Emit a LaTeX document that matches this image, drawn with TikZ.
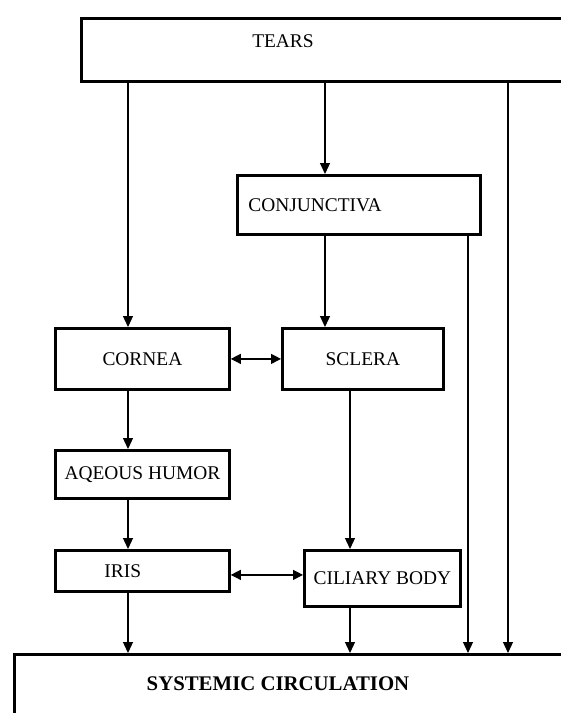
\documentclass[tikz,border=0pt]{standalone}
\usepackage{fontspec}
\setmainfont{Liberation Serif}
\usetikzlibrary{arrows.meta,positioning,calc}

\begin{document}
\begin{tikzpicture}[x=0.5pt,y=-0.5pt,
  box/.style={draw,line width=1.4pt,inner sep=0pt,anchor=north west,font=\fontsize{9.7}{11.6}\selectfont},
  lbl/.style={inner sep=0pt,font=\fontsize{9.7}{11.6}\selectfont},
  flow/.style={line width=0.6pt,-{Triangle[length=5.5pt,width=5pt]}},
  both/.style={line width=0.6pt,{Triangle[length=5pt,width=5pt]}-{Triangle[length=5pt,width=5pt]}}]
  \useasboundingbox (0,0) rectangle (561,713);
  \clip (0,0) rectangle (561,713);
  % Columns of the connectors
  \coordinate (colA) at (128,0);
  \coordinate (colB) at (325,0);
  \coordinate (colC) at (350,0);
  \coordinate (colD) at (468,0);
  \coordinate (colE) at (508,0);
  % Boxes
  \node[box,minimum width=280pt,minimum height=31.5pt] (tears) at (80,17) {};
  \node[lbl] (tearslbl) at (283,41) {TEARS};
  \node[box,minimum height=29.5pt,text width=110.5pt,inner xsep=5.5pt,align=left] (conj) at (236,174) {CONJUNCTIVA};
  \node[box,minimum width=87pt,minimum height=30.5pt] (cornea) at (54,327) {CORNEA};
  \node[box,minimum width=80.5pt,minimum height=30.5pt] (sclera) at (281,327) {SCLERA};
  \node[box,minimum width=87pt,minimum height=24pt] (aqueous) at (54,449) {AQEOUS HUMOR};
  \node[box,minimum height=20.5pt,text width=38pt,inner xsep=24.5pt,align=left] (iris) at (54,549) {IRIS};
  \node[box,minimum width=78pt,minimum height=28pt] (ciliary) at (303,549) {CILIARY BODY};
  \node[box,minimum width=300pt,minimum height=50pt] (sys) at (13,653) {};
  \node[lbl,font=\fontsize{10.4}{12}\selectfont\bfseries] (syslbl) at (278,684) {SYSTEMIC CIRCULATION};
  % Connectors
  \draw[flow] (tears.south -| colA) -- (cornea.north -| colA);
  \draw[flow] (tears.south -| colB) -- (conj.north -| colB);
  \draw[flow] (tears.south -| colE) -- (sys.north -| colE);
  \draw[flow] (conj.south -| colB) -- (sclera.north -| colB);
  \draw[flow] (conj.south -| colD) -- (sys.north -| colD);
  \draw[flow] (cornea.south -| colA) -- (aqueous.north -| colA);
  \draw[flow] (aqueous.south -| colA) -- (iris.north -| colA);
  \draw[flow] (iris.south -| colA) -- (sys.north -| colA);
  \draw[flow] (sclera.south -| colC) -- (ciliary.north -| colC);
  \draw[flow] (ciliary.south -| colC) -- (sys.north -| colC);
  \draw[both] (cornea.east) -- (sclera.west);
  \draw[both] ($(iris.east)+(0,4)$) -- ($(iris.east -| ciliary.west)+(0,4)$);
\end{tikzpicture}
\end{document}
